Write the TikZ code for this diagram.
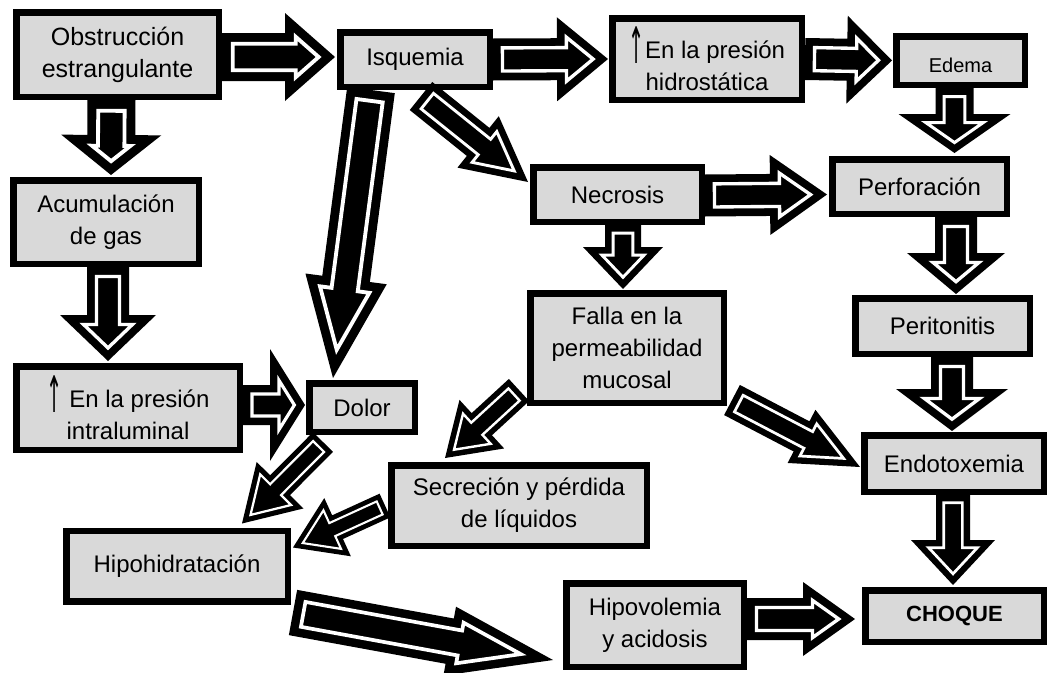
\documentclass[tikz,border=0pt]{standalone}
\usepackage{fontspec}
\setmainfont{Liberation Sans}
\newfontfamily\flechas{DejaVu Sans}
\usetikzlibrary{calc}
\definecolor{gris}{RGB}{217,217,217}

\tikzset{
	caja/.style={draw, line width=6.5pt, fill=gris, align=center, inner sep=0pt,
		font=\fontsize{24}{32}\selectfont},
}

% flechita de texto, alta y delgada
\newcommand{\sube}{\raisebox{-5pt}{\scalebox{0.8}[2.1]{\flechas ↑}}}

% contorno de una flecha gruesa: desde, hasta, medio cuerpo, media punta, largo punta, opciones
\newcommand{\forma}[6]{%
	\coordinate (h0) at ($(#2)!#5pt!(#1)$);
	\path[#6] ($(#1)!#3pt!90:(#2)$) -- ($(h0)!#3pt!-90:(#1)$) -- ($(h0)!#4pt!-90:(#1)$) -- (#2)
		-- ($(h0)!#4pt!90:(#1)$) -- ($(h0)!#3pt!90:(#1)$) -- ($(#1)!#3pt!-90:(#2)$) -- cycle;
}
% flecha negra con filete blanco por dentro
\newcommand{\flecha}[5]{%
	\coordinate (fa) at #1;
	\coordinate (fb) at #2;
	\forma{fa}{fb}{#3}{#4}{#5}{fill=black}
	\pgfmathsetmacro\fd{0.45*#3}
	\pgfmathsetmacro\fb{\fd/sin(atan(#4/#5))}
	\pgfmathsetmacro\fh{#5-\fd-\fb}
	\pgfmathsetmacro\fw{\fh*#4/#5}
	\pgfmathsetmacro\fs{#3-\fd}
	\pgfmathsetmacro\fl{0.16*#3}
	\coordinate (f1) at ($(fa)!\fd pt!(fb)$);
	\coordinate (f2) at ($(fb)!\fb pt!(fa)$);
	\forma{f1}{f2}{\fs}{\fw}{\fh}{draw=white, line width=\fl pt, line join=miter}
}

\begin{document}
\begin{tikzpicture}[x=1pt, y=-1pt]
	\useasboundingbox (0,0) rectangle (1049,672);

	\node[caja, minimum width=202.5pt, minimum height=84.5pt, font=\fontsize{25}{32}\selectfont] (obs) at (117.5,54.5) {Obstrucción\\estrangulante};
	\node[caja, minimum width=149.5pt, minimum height=54.5pt] (isq) at (415,59.5) {Isquemia};
	\node[caja, minimum width=189.5pt, minimum height=81.5pt] (hid) at (707,59) {\sube En la presión\\hidrostática};
	\node[caja, minimum width=128.5pt, minimum height=48.5pt, font=\fontsize{20}{26}\selectfont, text height=23pt, text depth=0pt] (ede) at (960.5,60.5) {Edema};
	\node[caja, minimum width=185.5pt, minimum height=83.5pt] (acu) at (106,222) {Acumulación\\de gas};
	\node[caja, minimum width=168.5pt, minimum height=54.5pt] (nec) at (617.5,194.5) {Necrosis};
	\node[caja, minimum width=174.5pt, minimum height=54.5pt] (per) at (919.5,186.5) {Perforación};
	\node[caja, minimum width=193.5pt, minimum height=109.5pt] (fal) at (627,348) {Falla en la\\permeabilidad\\mucosal};
	\node[caja, minimum width=174.5pt, minimum height=55.5pt] (pit) at (942.5,326) {Peritonitis};
	\node[caja, minimum width=223.5pt, minimum height=83.5pt] (itl) at (128,408) {\sube\ En la presión\\intraluminal};
	\node[caja, minimum width=105.5pt, minimum height=48.5pt] (dol) at (362,407.5) {Dolor};
	\node[caja, minimum width=255.5pt, minimum height=80.5pt] (sec) at (519,505.5) {Secreción y pérdida\\de líquidos};
	\node[caja, minimum width=179.5pt, minimum height=56.5pt] (endo) at (954,463.5) {Endotoxemia};
	\node[caja, minimum width=221.5pt, minimum height=70.5pt] (hip) at (177,566) {Hipohidratación};
	\node[caja, minimum width=177.5pt, minimum height=83.5pt] (hvo) at (655,625) {Hipovolemia\\y acidosis};
	\node[caja, minimum width=178.5pt, minimum height=51.5pt, font=\fontsize{22}{28}\selectfont\bfseries] (cho) at (954.5,616) {CHOQUE};

	\flecha{($(obs.east)+(0,2.5)$)}{($(isq.west)+(-2,-2.5)$)}{24}{44}{50}
	\flecha{(isq.east)}{($(hid.west)+(-1,0)$)}{21}{42}{51}
	\flecha{(hid.east)}{($(ede.west)+(-1,0)$)}{21}{44}{45}
	\flecha{($(obs.south)+(-6,0)$)}{($(acu.north)+(5,-2)$)}{24}{50}{40}
	\flecha{($(ede.south)+(-6,0)$)}{($(per.north)+(35,-3)$)}{19}{56}{39}
	\flecha{($(acu.south)+(2,0)$)}{($(itl.north)+(-20,-2)$)}{21}{48}{46}
	\flecha{($(isq.south)+(-44,0)$)}{($(dol.north)+(-29,-2)$)}{24}{41}{100}
	\flecha{($(isq.south)+(6,6)$)}{($(nec.north west)+(-2,18)$)}{18}{33}{64}
	\flecha{($(nec.east)+(0,1)$)}{($(per.west)+(-2,8)$)}{21}{40}{57}
	\flecha{($(nec.south)+(5.5,0)$)}{($(fal.north)+(-4,-1)$)}{18}{40}{42}
	\flecha{($(per.south)+(36.5,0)$)}{($(pit.north)+(13.5,-1)$)}{21}{49}{41}
	\flecha{($(pit.south)+(9.5,0)$)}{($(endo.north)+(-2,-1)$)}{21}{56}{42}
	\flecha{($(endo.south)+(-1,0)$)}{($(cho.north)+(-1.5,-2)$)}{17}{42}{45}
	\flecha{($(fal.south east)+(5,-6)$)}{($(endo.west)+(-1,3.5)$)}{17}{30}{66}
	\flecha{($(fal.south west)+(-8,-16)$)}{($(sec.north west)+(57,-4)$)}{15}{33}{50}
	\flecha{($(itl.east)+(0,-3)$)}{($(dol.west)+(-1,-2.5)$)}{20}{56}{35}
	\flecha{($(dol.south west)+(17,7)$)}{($(hip.north)+(65,-4)$)}{14}{33}{54}
	\flecha{($(sec.west)+(-3,0)$)}{($(hip.north east)+(2,20)$)}{13}{32}{49}
	\flecha{($(hip.south east)+(2,8)$)}{($(hvo.west)+(-10,35)$)}{23}{35}{105}
	\flecha{($(hvo.east)+(0,-6)$)}{($(cho.west)+(-7,3)$)}{21}{37}{52}
\end{tikzpicture}
\end{document}
